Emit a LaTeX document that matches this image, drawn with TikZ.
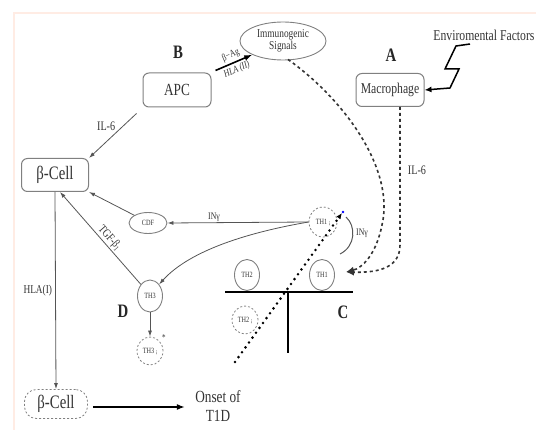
\documentclass[tikz,border=0pt]{standalone}
\usepackage{fontspec}
\setmainfont{Liberation Serif}[FakeStretch=0.78]
\usetikzlibrary{shapes.geometric,arrows.meta}
\definecolor{ln}{HTML}{555555}
\definecolor{bd}{HTML}{808080}
\definecolor{tx}{HTML}{333333}
\definecolor{framec}{RGB}{255,236,228}
\begin{document}
\begin{tikzpicture}[x=1pt,y=-1pt,
  box/.style={draw=bd,rounded corners=6pt,line width=1pt,text=tx,inner sep=0pt},
  oval/.style={draw=bd,ellipse,line width=0.9pt,text=tx,inner sep=0pt},
  dov/.style={draw=bd,dashed,ellipse,line width=0.8pt,text=tx,inner sep=0pt,dash pattern=on 2pt off 2pt},
  conn/.style={draw=ln,line width=0.8pt,-{Latex[length=6pt,width=4pt]}},
  thick conn/.style={draw=black,line width=1.6pt,-{Latex[length=8pt,width=6pt]}},
  dconn/.style={draw=black!80,line width=1.6pt,dash pattern=on 3pt off 3pt,-{Latex[length=8pt,width=7pt]}},
  letter/.style={font=\fontsize{19}{19}\selectfont\bfseries,text=black!85,inner sep=0pt},
  lbl/.style={text=tx,inner sep=1pt},
  ]
\useasboundingbox (0,0) rectangle (536,430);
\draw[framec,line width=2pt] (14,430) -- (14,13) -- (536,13);

% top row
\node[letter] (B) at (178,52) {B};
\node[box,minimum width=68pt,minimum height=34pt,font=\fontsize{17}{17}\selectfont] (apc) at (177,90) {APC};
\node[oval,minimum width=86pt,minimum height=38pt,align=center,font=\fontsize{12}{12}\selectfont] (imm) at (283,41) {Immunogenic\\Signals};
\node[letter] (A) at (391,55) {A};
\node[box,minimum width=68pt,minimum height=33pt,font=\fontsize{15}{15}\selectfont] (mac) at (390,90) {Macrophage};
\node[lbl,font=\fontsize{15}{15}\selectfont] (env) at (484,35) {Enviromental Factors};
\coordinate (z0) at (470,44);

% left column
\node[box,minimum width=67pt,minimum height=33pt,font=\fontsize{19}{19}\selectfont] (bcell) at (55,175) {β-Cell};
\node[oval,minimum width=38pt,minimum height=21pt,font=\fontsize{8}{8}\selectfont] (cdf) at (148,223) {CDF};
\node[dov,minimum width=28pt,minimum height=30pt,font=\fontsize{8}{8}\selectfont] (th1d) at (323,222) {TH1\,{\fontsize{6}{6}\selectfont¡}};
\node[oval,minimum width=25pt,minimum height=32pt,font=\fontsize{8}{8}\selectfont] (th3) at (150,296) {TH3};
\node[letter] (D) at (123,311) {D};
\node[dov,minimum width=26pt,minimum height=28pt,font=\fontsize{8}{8}\selectfont] (th3s) at (150,351) {TH3\,{\fontsize{6}{6}\selectfont¡}};
\node[lbl,font=\fontsize{9}{9}\selectfont] (star) at (164,338) {*};
\node[draw=bd,dashed,dash pattern=on 2pt off 2pt,rounded corners=12pt,line width=0.8pt,text=tx,inner sep=0pt,minimum width=63pt,minimum height=29pt,font=\fontsize{19}{19}\selectfont] (bcelld) at (56,404) {β-Cell};
\node[lbl,align=center,font=\fontsize{17}{19}\selectfont] (onset) at (218,406) {Onset of\\T1D};

% C complex
\coordinate (barL) at (225,292);
\coordinate (barR) at (353,292);
\coordinate (barM) at (288,292);
\coordinate (stem) at (288,353);
\draw[black,line width=2.2pt] (barL) -- (barR);
\draw[black,line width=2pt] (barM) -- (stem);
\node[oval,minimum width=25pt,minimum height=31pt,font=\fontsize{8}{8}\selectfont] (th2) at (247,275) {TH2};
\node[oval,minimum width=25pt,minimum height=31pt,font=\fontsize{8}{8}\selectfont] (th1) at (322,275) {TH1};
\node[dov,minimum width=26pt,minimum height=28pt,font=\fontsize{8}{8}\selectfont] (th2d) at (245,320) {TH2\,{\fontsize{6}{6}\selectfont¡}};
\node[letter] (C) at (343,312) {C};
\coordinate (dotS) at (235,362);
\coordinate (dotE) at (342,213);
\coordinate (conv) at (346,272);
\coordinate (arcS) at (340,254);
\coordinate (arcE) at (346,217);

% connectors
\draw[thick conn] (apc.north east) ++(4,-2) coordinate (a1) -- (imm.south west) node[pos=0.5,sloped,above=1.5pt,lbl,font=\fontsize{10}{10}\selectfont]{β−Ag} node[pos=0.5,sloped,below=1.5pt,lbl,font=\itshape\fontsize{10}{10}\selectfont]{HLA (II)};
\draw[conn] (apc.south west) ++(-6,6) -- (bcell.north east) node[pos=0.42,above left,lbl,font=\fontsize{13}{13}\selectfont]{IL-6};
\draw[black,line width=1.5pt,-{Latex[length=7pt,width=6pt]}] (z0) -- (456,46) -- (445,69) -- (459,69) -- (450,88) -- (mac.east);
\draw[dconn] (imm.south) ++(5,-1) .. controls (345,100) and (395,170) .. (382,225) .. controls (376,255) and (362,268) .. (conv);
\draw[dconn] (mac.south) ++(10,0) -- (400,245) .. controls (400,266) and (382,273) .. (conv);
\node[lbl,font=\fontsize{13}{13}\selectfont] (il6r) at (417,170) {IL-6};
\draw[conn] (th1d.west) -- (cdf.east) node[pos=0.67,above,lbl,font=\fontsize{10}{10}\selectfont]{INγ};
\draw[conn] (th1d.west) .. controls (250,232) and (190,250) .. (th3.north east);
\draw[conn] (cdf.north west) -- (bcell.south east);
\draw[conn] (th3.north west) -- ([xshift=5pt]bcell.south) node[pos=0.45,sloped,above,lbl,font=\fontsize{12}{12}\selectfont]{TGF-β\textsubscript{1}};
\draw[conn] (th3.south) -- (th3s.north);
\draw[conn] (bcell.south) -- (bcelld.north) node[midway,left,lbl,font=\fontsize{12}{12}\selectfont,xshift=-2pt]{HLA(I)};
\draw[thick conn] (bcelld.east) ++(5,3) -- ++(92,0);
\draw[black,line width=2.8pt,line cap=round,dash pattern=on 0pt off 6pt,-{Latex[length=6pt,width=5pt]}] (dotS) -- (dotE);
\fill[blue] (dotE) ++(1,-1) circle (1.3pt);
\draw[ln,line width=1pt] (arcS) .. controls (356,246) and (356,226) .. (arcE);
\node[lbl,font=\fontsize{10}{10}\selectfont] (infr) at (362,233) {INγ};
\end{tikzpicture}
\end{document}
